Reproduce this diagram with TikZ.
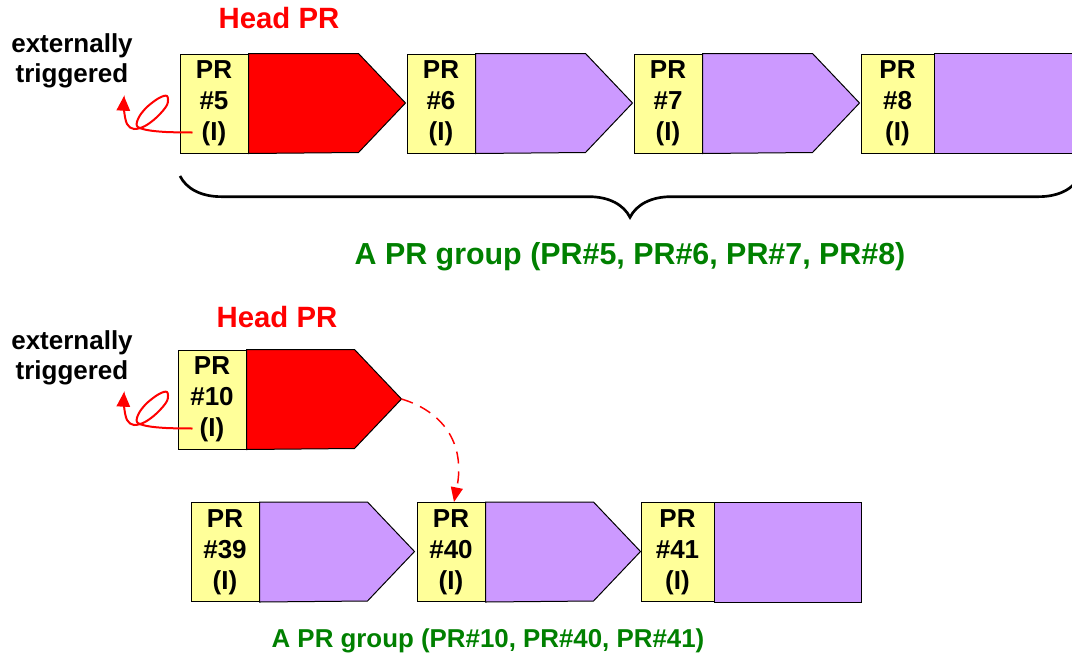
\documentclass[tikz,border=0pt]{standalone}
\usepackage{fontspec}
\setmainfont{Liberation Sans}
\usepackage{xcolor}
\usepackage{tikz}
\usetikzlibrary{arrows.meta, calc, decorations.pathreplacing}
\definecolor{prred}{RGB}{255,0,0}
\definecolor{prpurple}{RGB}{204,153,255}
\definecolor{pryellow}{RGB}{255,255,153}
\definecolor{prgreen}{RGB}{0,128,0}
\newcommand{\prtag}[1]{PR\\\##1\\(I)}

\begin{document}
\begin{tikzpicture}[x=0.75pt,y=-0.75pt,
  every node/.style={font=\bfseries,align=center},
  tag/.style={draw,fill=pryellow,line width=0.75pt,minimum width=51pt,minimum height=74.25pt,inner sep=0pt,
    font=\fontsize{19.5}{23.25}\bfseries\selectfont},
  lasttag/.style={tag,minimum width=54.75pt},
  body/.style={draw,line width=0.75pt,line join=miter},
  headlbl/.style={text=prred,font=\fontsize{22}{26}\bfseries\selectfont},
  extlbl/.style={font=\fontsize{19.5}{22.5}\bfseries\selectfont},
  grplbl/.style={text=prgreen,font=\fontsize{22.8}{26}\bfseries\selectfont},
  trig/.style={prred,line width=1.5pt,-{Triangle[length=11pt,width=10pt]}},
  nextpr/.style={prred,line width=1.1pt,dash pattern=on 9pt off 6pt,-{Triangle[length=11pt,width=9pt]}}]
  \useasboundingbox (0,0) rectangle (1072,658);

  % first group
  \node[headlbl] (head1) at (279,18) {Head PR};
  \node[extlbl] (ext1) at (72,61) {externally\\triggered};
  \node[tag] (t5) at (214,103.5) {\prtag{5}};
  \draw[body,fill=prred] (t5.north east) -- ++(110,0) -- ++(47,49.5) coordinate (tip5) -- ++(-47,49.5) -- (t5.south east) -- cycle;
  \node[tag] (t6) at (441,103.5) {\prtag{6}};
  \draw[body,fill=prpurple] (t6.north east) -- ++(110,0) -- ++(47,49.5) coordinate (tip6) -- ++(-47,49.5) -- (t6.south east) -- cycle;
  \node[tag] (t7) at (668,103.5) {\prtag{7}};
  \draw[body,fill=prpurple] (t7.north east) -- ++(110,0) -- ++(47,49.5) coordinate (tip7) -- ++(-47,49.5) -- (t7.south east) -- cycle;
  \node[lasttag] (t8) at (897.5,103.5) {\prtag{8}};
  \draw[body,fill=prpurple] (t8.north east) rectangle (1085,153);
  \draw[trig] plot[smooth,tension=0.55] coordinates {($(t5.south west)+(13,-21)$) (166,132) (147,130) (137,126) (139,117) (147,107) (159,98) (167,96) (167,105) (157,117) (145,126) (134,129) (127,124) (124,110) (124,96)};
  \draw[decorate,decoration={brace,mirror,amplitude=31pt},line width=2pt] (180,176) -- (1080,176);
  \node[grplbl] (grp1) at (630,257) {A PR group (PR\#5, PR\#6, PR\#7, PR\#8)};

  % second group
  \node[headlbl] (head2) at (277,317) {Head PR};
  \node[extlbl] (ext2) at (72,358) {externally\\triggered};
  \node[tag] (t10) at (212,399.5) {\prtag{10}};
  \draw[body,fill=prred] (t10.north east) -- ++(108,0) -- ++(47,49.5) coordinate (tip10) -- ++(-47,49.5) -- (t10.south east) -- cycle;
  \node[tag] (t39) at (225,552) {\prtag{39}};
  \draw[body,fill=prpurple] (t39.north east) -- ++(108,0) -- ++(47,49.5) coordinate (tip39) -- ++(-47,49.5) -- (t39.south east) -- cycle;
  \node[tag] (t40) at (451,552) {\prtag{40}};
  \draw[body,fill=prpurple] (t40.north east) -- ++(108,0) -- ++(47,49.5) coordinate (tip40) -- ++(-47,49.5) -- (t40.south east) -- cycle;
  \node[lasttag] (t41) at (677.5,552) {\prtag{41}};
  \draw[body,fill=prpurple] (t41.north east) rectangle ($(t41.south east)+(147,0)$);
  \draw[trig] plot[smooth,tension=0.55] coordinates {($(t10.south west)+(15,-21)$) (166,428) (147,426) (137,422) (139,413) (147,403) (159,394) (167,392) (167,401) (157,413) (145,422) (134,425) (127,420) (124,406) (124,392)};
  \draw[nextpr] (tip10) .. controls +(40,12) and +(12,-60) .. ($(t40.north)+(3,0)$);
  \node[grplbl,font=\fontsize{19.4}{23}\bfseries\selectfont] (grp2) at (488,641) {A PR group (PR\#10, PR\#40, PR\#41)};
\end{tikzpicture}
\end{document}
